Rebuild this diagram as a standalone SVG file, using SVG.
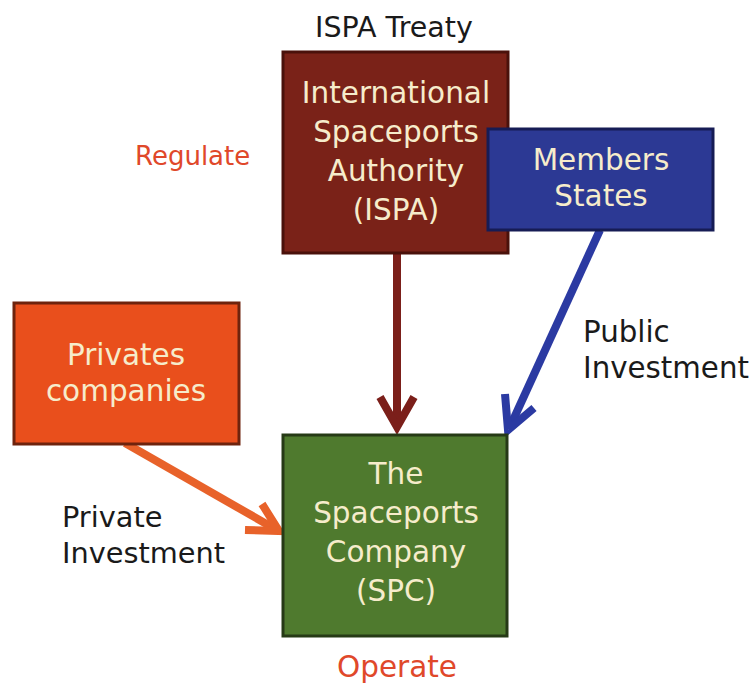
<svg xmlns="http://www.w3.org/2000/svg" width="751" height="690" viewBox="0 0 751 690">
<style>
.lbl{font-family:"DejaVu Sans",sans-serif;font-size:29.3px;fill:#1a1a1a;}
.act{font-family:"DejaVu Sans",sans-serif;font-size:29.5px;fill:#e0482a;}
.bt{font-family:"DejaVu Sans",sans-serif;font-size:29.5px;fill:#f6eccb;text-anchor:middle;}
.box{stroke-width:3;}
.arr{fill:none;stroke-width:8;stroke-linecap:butt;stroke-linejoin:miter;}
</style>
<rect width="751" height="690" fill="#ffffff"/>
<g id="connectors">
<path class="arr" stroke="#7b1f1a" d="M397,253 V426"/>
<path class="arr" stroke="#7b1f1a" d="M380,397 L397,427 L414,397"/>
<path class="arr" stroke="#2b3aa2" d="M600,230 L509,429"/>
<path class="arr" stroke="#2b3aa2" d="M505,394 L508,430 L534,408"/>
<path class="arr" stroke="#e8622a" d="M125,443 L277,530"/>
<path class="arr" stroke="#e8622a" d="M262,504 L279,531 L245,530"/>
</g>
<g id="isp">
<rect class="box" x="283" y="52" width="225" height="201" fill="#7a2218" stroke="#4a110b"/>
<text class="bt" x="396" y="103">International<tspan x="396" dy="39">Spaceports</tspan><tspan x="396" dy="39">Authority</tspan><tspan x="396" dy="39">(ISPA)</tspan></text>
</g>
<g id="members">
<rect class="box" x="488" y="129" width="225" height="101" fill="#2c3994" stroke="#161c55"/>
<text class="bt" x="601" y="170">Members<tspan x="601" dy="36">States</tspan></text>
</g>
<g id="privates">
<rect class="box" x="14" y="303" width="225" height="141" fill="#e94f1c" stroke="#6e230d"/>
<text class="bt" x="126" y="365">Privates<tspan x="126" dy="36">companies</tspan></text>
</g>
<g id="spc">
<rect class="box" x="283" y="435" width="224" height="201" fill="#4f7a2e" stroke="#263a16"/>
<text class="bt" x="396" y="484">The<tspan x="396" dy="39">Spaceports</tspan><tspan x="396" dy="39">Company</tspan><tspan x="396" dy="39">(SPC)</tspan></text>
</g>
<g id="labels">
<text class="lbl" x="394" y="37" text-anchor="middle" style="font-size:28.5px">ISPA Treaty</text>
<text class="act" x="135" y="165" style="font-size:26px">Regulate</text>
<text class="lbl" x="583" y="342">Public<tspan x="583" dy="36">Investment</tspan></text>
<text class="lbl" x="62" y="527" style="font-size:28.8px">Private<tspan x="62" dy="36">Investment</tspan></text>
<text class="act" x="397" y="677" text-anchor="middle">Operate</text>
</g>
</svg>
